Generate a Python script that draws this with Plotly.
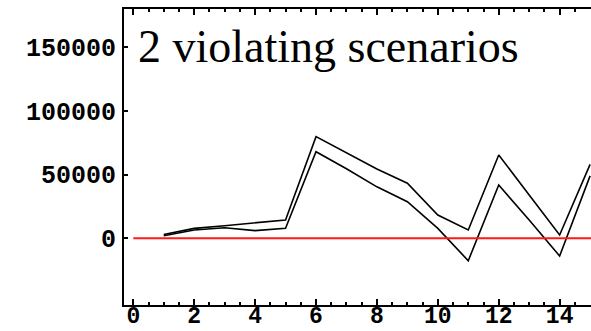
import plotly.graph_objects as go

scenarios = list(range(1, 16))
upper = [3000, 7800, 9900, 12200, 14400, 79800, 67200, 54400, 43200, 18300, 6500, 65400, 34000, 2600, 58000]
lower = [2000, 6500, 8300, 6000, 7800, 68000, 54600, 40400, 28700, 7800, -17600, 41800, 14400, -13900, 49000]
threshold = 0
title_text = "2 violating scenarios"
y_ticks = [0, 50000, 100000, 150000]
y_labels = ["0", "50000", "100000", "150000"]
x_ticks = [0, 2, 4, 6, 8, 10, 12, 14]
x_labels = ["0", "2", "4", "6", "8", "10", "12", "14"]

fig = go.Figure()
fig.add_trace(go.Scatter(x=scenarios, y=upper, mode="lines",
                         line=dict(color="black", width=1.6), showlegend=False))
fig.add_trace(go.Scatter(x=scenarios, y=lower, mode="lines",
                         line=dict(color="black", width=1.6), showlegend=False))
fig.add_trace(go.Scatter(x=[0, 16], y=[threshold, threshold], mode="lines",
                         line=dict(color="#ff1a1a", width=2), showlegend=False))

tickfont = dict(family="Liberation Mono", size=25, color="black", weight="bold")
xtickfont = dict(family="Liberation Mono", size=23, color="black", weight="bold")

fig.update_layout(
    width=591, height=331,
    margin=dict(l=124, r=0, t=9, b=26),
    paper_bgcolor="white", plot_bgcolor="white",
    xaxis=dict(range=[-0.305, 15.03], tickmode="array", tickvals=x_ticks, ticktext=x_labels,
               ticks="inside", ticklen=6, tickwidth=1.5, tickcolor="black",
               minor=dict(tickmode="linear", dtick=0.5, tick0=0, ticks="inside", ticklen=3,
                          tickwidth=1.5, tickcolor="black", showgrid=False),
               showline=True, linecolor="black", linewidth=2, mirror="ticks",
               showgrid=False, zeroline=False, tickfont=xtickfont, ticklabelstandoff=-12,
               automargin=False),
    yaxis=dict(range=[-52360, 180000], tickmode="array", tickvals=y_ticks, ticktext=y_labels,
               ticks="inside", ticklen=4, tickwidth=1.5, tickcolor="black",
               showline=True, linecolor="black", linewidth=2, mirror=False,
               showgrid=False, zeroline=False, tickfont=tickfont, ticklabelstandoff=1,
               automargin=False),
    annotations=[dict(text=title_text, xref="paper", yref="paper",
                      x=(136 - 124) / 467, y=(305 - 74) / 296,
                      xanchor="left", yanchor="bottom", showarrow=False,
                      font=dict(family="Liberation Serif", size=46, color="black"))],
)

fig.write_html("out.html")
